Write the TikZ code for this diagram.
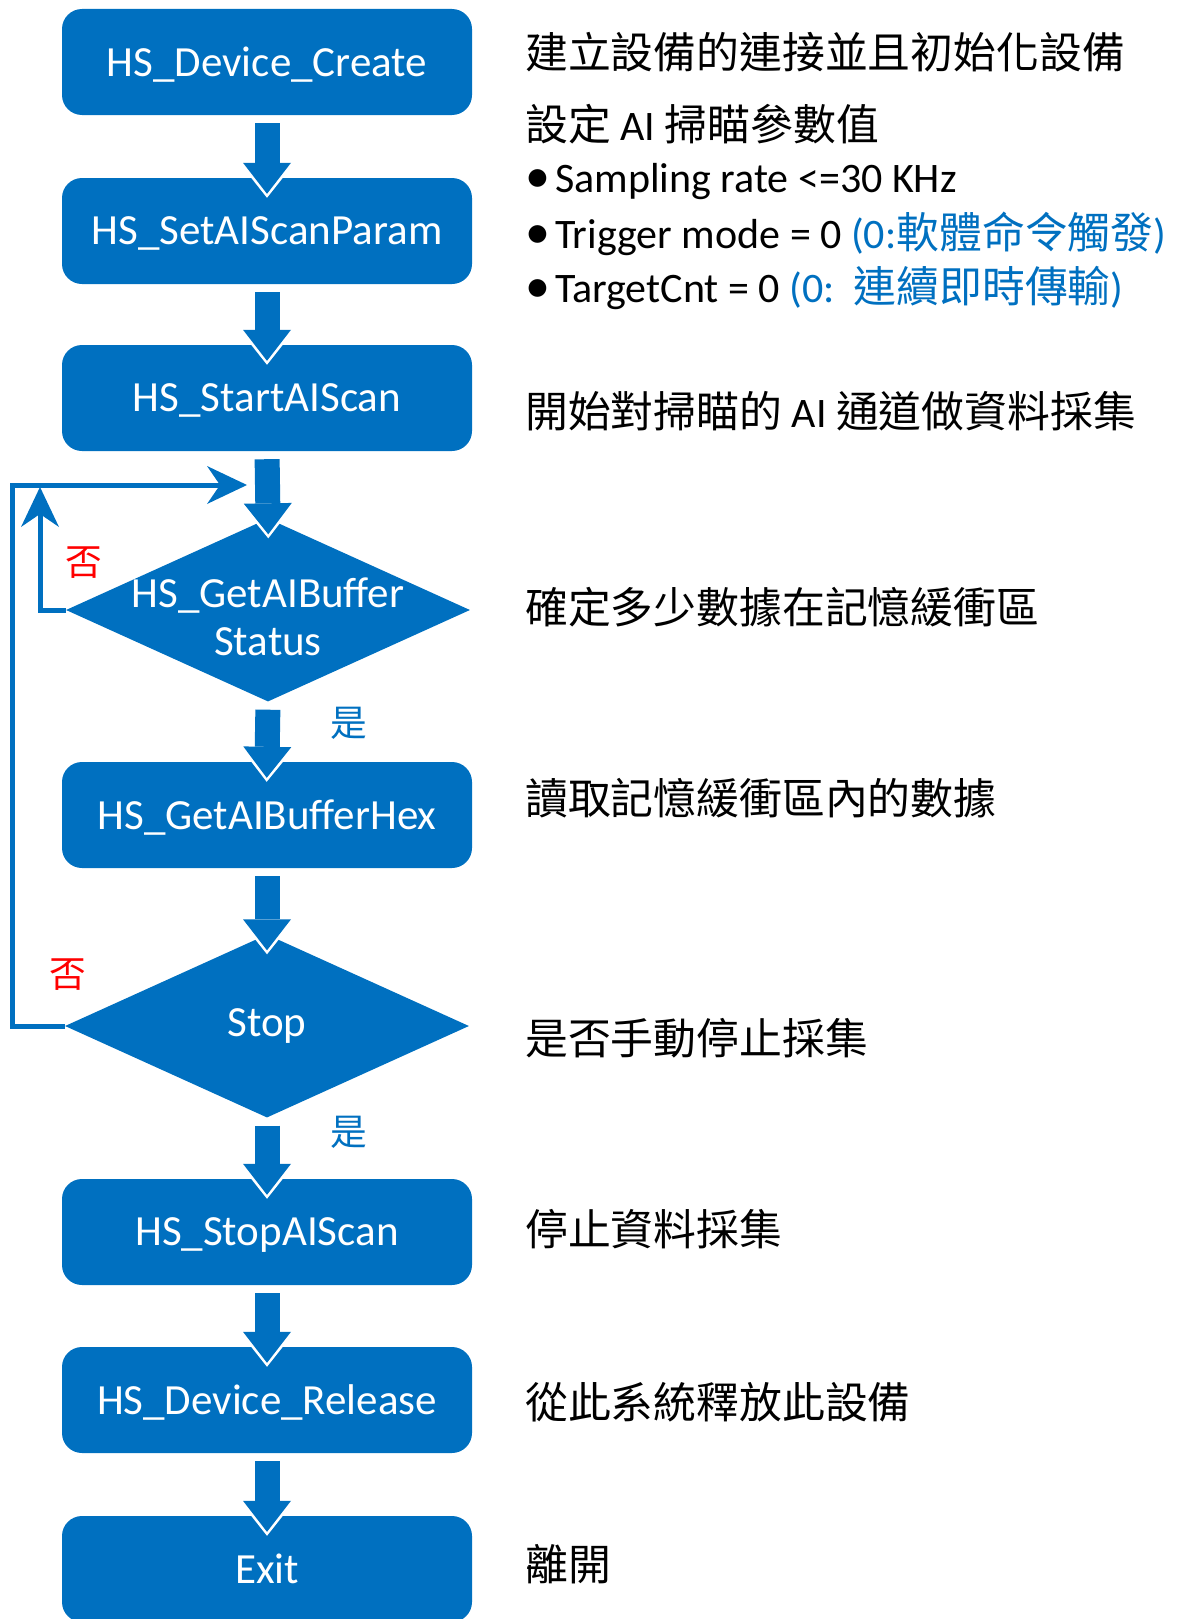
\documentclass[tikz,border=0pt]{standalone}
\usepackage{fontspec}
\setmainfont{Carlito}
\newfontfamily\cjkfont[Scale=1.02]{Noto Sans CJK TC}
\usepackage{tikz}
\usetikzlibrary{arrows.meta,shapes.geometric}
\definecolor{hsblue}{HTML}{0070C0}
\newcommand{\zh}[1]{{\cjkfont #1}}
\newcommand{\dotitem}{{\fontsize{50}{50}\selectfont•}\hspace{5pt}}

\begin{document}
\begin{tikzpicture}[x=1pt,y=-1pt]

  %Styles for picture
  \tikzset
  {
  procbox/.style={rectangle, rounded corners=20pt, fill=hsblue, text=white, minimum width=410pt, minimum height=106pt, text depth=0pt, font=\fontsize{43}{50}\selectfont},
  decision/.style={diamond, aspect=2.2, fill=hsblue, text=white, minimum width=404pt, minimum height=183pt, inner sep=-20pt, align=center, font=\fontsize{43}{48}\selectfont},
  inside/.style={white, align=center, font=\fontsize{43}{48}\selectfont},
  flow/.style={hsblue, line width=25pt, shorten <=8pt, shorten >=-16pt, -{Triangle[length=31pt,width=48pt,line width=0pt]},
    preaction={draw=white, shorten >=-20pt, -{Triangle[length=36pt,width=57pt,line width=0pt]}}},
  loopback/.style={hsblue, line width=5pt, -{Stealth[length=40pt,width=38pt,inset=13pt,line width=0pt]}},
  note/.style={anchor=west, inner sep=0pt, font=\fontsize{42}{50}\selectfont},
  nolabel/.style={red, font=\fontsize{36}{40}\selectfont\cjkfont},
  yeslabel/.style={hsblue, font=\fontsize{36}{40}\selectfont\cjkfont},
  }

  \useasboundingbox (0,0) rectangle (1176,1619);

  %Nodes
  \node[procbox] (b1) at (267,62) {HS\_Device\_Create};
  \node[procbox] (b2) at (267,231) {HS\_SetAIScanParam};
  \node[procbox] (b3) at (267,398) {HS\_StartAIScan};
  \node[decision, label={[inside, yshift=-7pt]center:HS\_GetAIBuffer\\Status}] (d1) at (268,610) {};
  \node[procbox] (b4) at (267,815) {HS\_GetAIBufferHex};
  \node[decision] (d2) at (267,1026) {Stop};
  \node[procbox] (b5) at (267,1232) {HS\_StopAIScan};
  \node[procbox] (b6) at (267,1400) {HS\_Device\_Release};
  \node[procbox] (b7) at (267,1569) {Exit};

  \coordinate (ret) at (12,485);
  \coordinate (entry) at (247,485);
  \coordinate (rejoin) at (40,487);

  \node[nolabel] (no1) at (84,563) {否};
  \node[nolabel] (no2) at (68,975) {否};
  \node[yeslabel] (yes1) at (349,723) {是};
  \node[yeslabel] (yes2) at (349,1132) {是};

  %Notes
  \node[note] (n1) at (525,52) {\zh{建立設備的連接並且初始化設備}};
  \node[note] (n2) at (525,124) {\zh{設定} AI \zh{掃瞄參數值}};
  \node[note] (n3) at (525,182) {\dotitem Sampling rate <=30 KHz};
  \node[note] (n4) at (525,234) {\dotitem Trigger mode = 0 \textcolor{hsblue}{(0:\zh{軟體命令觸發})}};
  \node[note] (n5) at (525,288) {\dotitem TargetCnt = 0 \textcolor{hsblue}{(0:\ \ \zh{連續即時傳輸})}};
  \node[note] (n6) at (525,411) {\zh{開始對掃瞄的} AI \zh{通道做資料採集}};
  \node[note] (n7) at (525,607) {\zh{確定多少數據在記憶緩衝區}};
  \node[note] (n8) at (525,798) {\zh{讀取記憶緩衝區內的數據}};
  \node[note] (n9) at (525,1038) {\zh{是否手動停止採集}};
  \node[note] (n10) at (525,1229) {\zh{停止資料採集}};
  \node[note] (n11) at (525,1402) {\zh{從此系統釋放此設備}};
  \node[note] (n12) at (525,1564) {\zh{離開}};

  %Edges
  \draw[flow] (b1.south) -- (b2.north);
  \draw[flow] (b2.south) -- (b3.north);
  \draw[flow] (b3.south) -- (d1.north);
  \draw[flow] (d1.south) -- (b4.north);
  \draw[flow] (b4.south) -- (d2.north);
  \draw[flow] (d2.south) -- (b5.north);
  \draw[flow] (b5.south) -- (b6.north);
  \draw[flow] (b6.south) -- (b7.north);
  \draw[loopback] (d1.west) -| (rejoin);
  \draw[loopback] (d2.west) -| (ret) -- (entry);
\end{tikzpicture}
\end{document}
